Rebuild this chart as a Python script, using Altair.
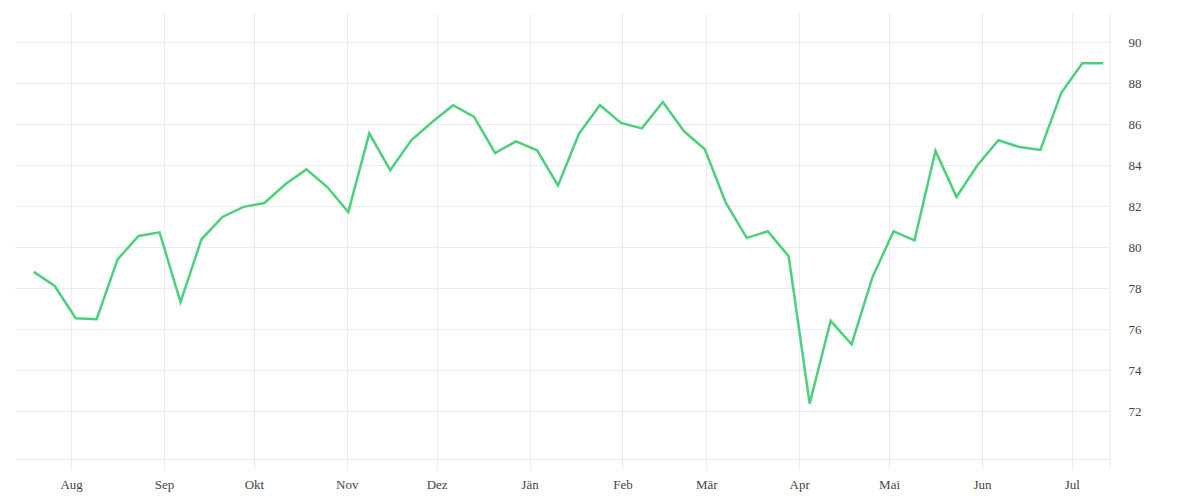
import altair as alt
import pandas as pd

# weekly observations (mid-July to mid-July)
start_date = "2018-07-19 12:00"
values = [78.80, 78.11, 76.54, 76.49, 79.41, 80.55, 80.73, 77.32, 80.39, 81.48,
          81.97, 82.16, 83.07, 83.80, 82.94, 81.72, 85.56, 83.76, 85.22, 86.11,
          86.93, 86.36, 84.60, 85.17, 84.73, 83.02, 85.54, 86.94, 86.07, 85.80,
          87.09, 85.67, 84.78, 82.18, 80.46, 80.78, 79.56, 72.37, 76.41, 75.27,
          78.55, 80.78, 80.34, 84.70, 82.46, 84.00, 85.22, 84.89, 84.75, 87.54,
          88.98, 88.98]
dates = pd.date_range(start_date, periods=len(values), freq="7D")

# month tick labels (Austrian German)
month_names = ["Jän", "Feb", "Mär", "Apr", "Mai", "Jun",
               "Jul", "Aug", "Sep", "Okt", "Nov", "Dez"]
tick_months = [(2018, 8), (2018, 9), (2018, 10), (2018, 11), (2018, 12),
               (2019, 1), (2019, 2), (2019, 3), (2019, 4), (2019, 5),
               (2019, 6), (2019, 7)]
y_ticks = [72, 74, 76, 78, 80, 82, 84, 86, 88, 90]
y_domain = [69.67, 91.43]

df = pd.DataFrame({"date": dates, "value": values})

GRID = "#ececec"
LABEL = "#444444"
FONT = "Liberation Serif"

label_expr = "[" + ",".join("'%s'" % m for m in month_names) + "][month(datum.value)]"

x_axis = alt.Axis(
    values=[alt.DateTime(year=y, month=m, date=1) for y, m in tick_months],
    labelExpr=label_expr,
    title=None,
    grid=True, gridColor=GRID, gridWidth=1,
    domain=True, domainColor=GRID, domainWidth=1,
    ticks=True, tickColor=GRID, tickSize=10, tickWidth=1,
    labelFont=FONT, labelFontSize=13, labelColor=LABEL,
    labelPadding=9, labelAngle=0,
)

y_axis = alt.Axis(
    orient="right",
    values=y_ticks,
    title=None,
    grid=True, gridColor=GRID, gridWidth=1,
    domain=False, ticks=False,
    labelFont=FONT, labelFontSize=13, labelColor=LABEL,
    labelPadding=18, labelOffset=0.5, labelAlign="left",
)

line = alt.Chart(df).mark_line(color="#4cd07c", strokeWidth=2.5).encode(
    x=alt.X("date:T", axis=x_axis,
            scale=alt.Scale(domain=[alt.DateTime(year=2018, month=7, date=13, hours=6),
                                    alt.DateTime(year=2019, month=7, date=13, hours=18)])),
    y=alt.Y("value:Q", axis=y_axis, scale=alt.Scale(domain=y_domain, nice=False, zero=False)),
)

edge = alt.Chart(pd.DataFrame({"a": [0]})).mark_rule(color=GRID, strokeWidth=1).encode(
    x=alt.value(1095), y=alt.value(0), y2=alt.value(456)
)

chart = alt.layer(line, edge).properties(
    width=1095, height=446,
    padding={"left": 7, "top": 4, "right": 5, "bottom": 5},
    background="white",
).configure_view(stroke=None)

chart.save("out.html", embed_options={"renderer": "svg", "actions": False})
